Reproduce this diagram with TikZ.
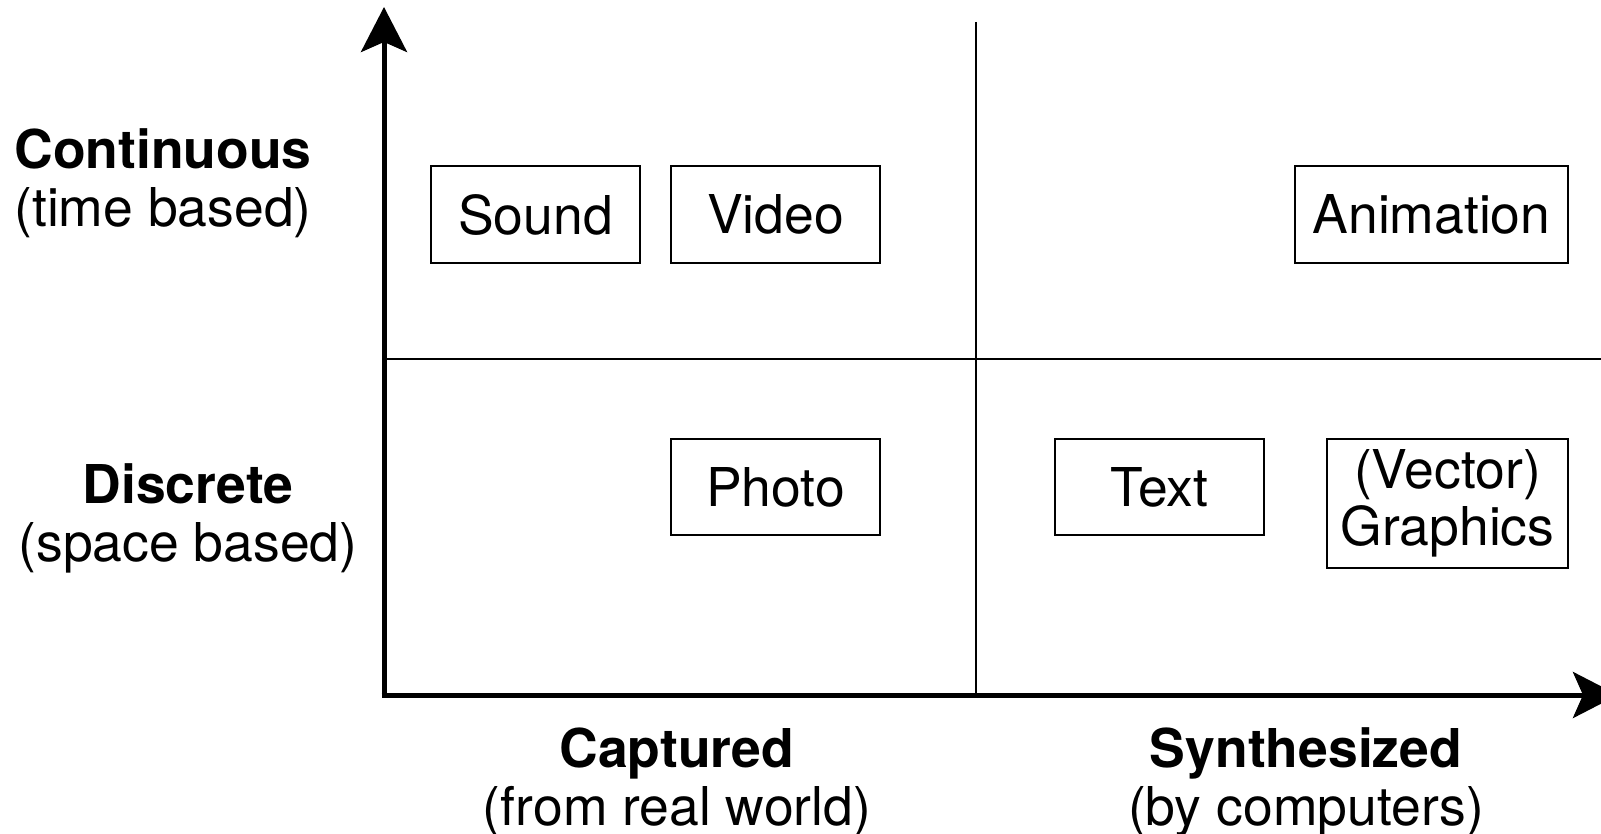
\documentclass[tikz,border=0pt]{standalone}
\usepackage{fontspec}
\setmainfont{TeX Gyre Heros}
\usetikzlibrary{arrows.meta}
\begin{document}
\begin{tikzpicture}[x=1pt,y=-1pt,
  box/.style={draw,line width=2pt,inner sep=0pt,font=\fontsize{53.5}{57}\selectfont,align=center},
  lab/.style={inner sep=0pt,align=center,font=\fontsize{53.5}{58}\selectfont},
  axis/.style={line width=5pt,-{Stealth[length=45pt,width=46pt,inset=10pt]}},
  thin/.style={line width=2pt}]
\useasboundingbox (0,0) rectangle (1601,834);
% axes
\coordinate (O) at (384,695);
\coordinate (ytop) at (384,7);
\coordinate (xend) at (1618,695);
\coordinate (mtop) at (976,22);
\coordinate (mbot) at (976,695);
\coordinate (hl) at (384,359);
\coordinate (hr) at (1601,359);
\draw[thin] (mtop) -- (mbot);
\draw[thin] (hl) -- (hr);
\draw[axis] ([yshift=2.5pt]O) -- (ytop);
\draw[axis] ([xshift=-2.5pt]O) -- (xend);
% boxes
\node[box,minimum width=209pt,minimum height=97pt] (sound) at (535.5,214.5) {Sound};
\node[box,minimum width=209pt,minimum height=97pt] (video) at (775.5,214.5) {Video};
\node[box,minimum width=273pt,minimum height=97pt] (anim) at (1431.5,214.5) {Animation};
\node[box,minimum width=209pt,minimum height=96pt] (photo) at (775.5,487) {Photo};
\node[box,minimum width=209pt,minimum height=96pt] (text) at (1159.5,487) {Text};
\node[box,minimum width=241pt,minimum height=129pt] (vg) at (1447.5,503.5) {(Vector)\\Graphics};
% labels
\node[lab] (cont) at (163,183) {\textbf{Continuous}\\(time based)};
\node[lab] (disc) at (188,518) {\textbf{Discrete}\\(space based)};
\node[lab] (capt) at (677,782) {\textbf{Captured}\\(from real world)};
\node[lab] (synth) at (1306,782) {\textbf{Synthesized}\\(by computers)};
\end{tikzpicture}
\end{document}
